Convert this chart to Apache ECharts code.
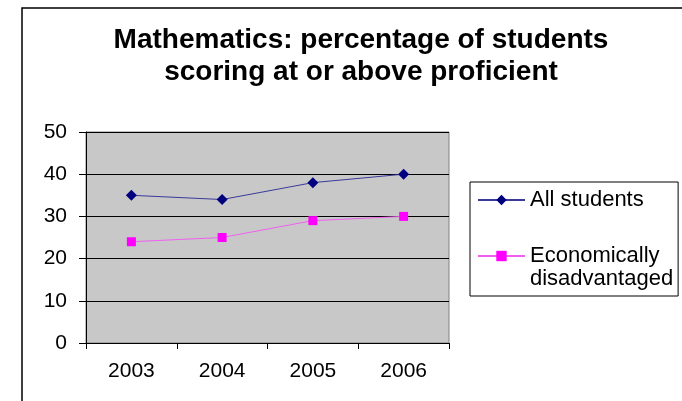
<!DOCTYPE html>
<html>
<head>
<meta charset="utf-8">
<script src="https://cdn.jsdelivr.net/npm/echarts@6/dist/echarts.min.js"></script>
<style>
  html, body { margin: 0; padding: 0; background: #fff; }
  #chart { width: 682px; height: 401px; }
</style>
</head>
<body>
<div id="chart"></div>
<script>
  const years = ['2003', '2004', '2005', '2006']
  const allStudents = [35, 34, 38, 40]
  const econDisadvantaged = [24, 25, 29, 30]
  const seriesNames = ['All students', 'Economically disadvantaged']

  const font = "'Liberation Sans', Arial, sans-serif"

  const chart = echarts.init(document.getElementById('chart'))
  chart.setOption({
    backgroundColor: '#fff',
    animation: false,
    title: {
      text: 'Mathematics: percentage of students\nscoring at or above proficient',
      left: 356,
      top: 19,
      textAlign: 'center',
      textStyle: {
        fontFamily: font,
        fontSize: 28,
        fontWeight: 'bold',
        color: '#000',
        lineHeight: 32
      }
    },
    // outer chart frame
    graphic: [{
      type: 'rect',
      shape: { x: 22, y: 8, width: 700, height: 450 },
      style: { fill: 'none', stroke: '#000', lineWidth: 1.5 },
      silent: true
    }],
    legend: {
      orient: 'vertical',
      left: 470,
      top: 182,
      padding: [6.5, 5, 5.5, 7],
      itemGap: 10,
      itemWidth: 47,
      itemHeight: 13,
      borderColor: '#000',
      borderWidth: 1,
      backgroundColor: '#fff',
      data: [
        { name: seriesNames[0] },
        { name: seriesNames[1] }
      ],
      formatter: name => name === seriesNames[1] ? '\nEconomically\ndisadvantaged' : name,
      textStyle: {
        fontFamily: font,
        fontSize: 22,
        lineHeight: 23,
        color: '#000'
      }
    },
    grid: {
      left: 86,
      right: 233,
      top: 132,
      bottom: 58,
      show: true,
      backgroundColor: '#c8c8c8',
      borderColor: '#808080',
      borderWidth: 1
    },
    xAxis: {
      type: 'category',
      data: years,
      boundaryGap: true,
      axisLine: { lineStyle: { color: '#000', width: 1 } },
      axisTick: { show: true, length: 6, alignWithLabel: false, lineStyle: { color: '#000' } },
      axisLabel: { fontFamily: font, fontSize: 21, color: '#000', margin: 18 }
    },
    yAxis: {
      type: 'value',
      min: 0,
      max: 50,
      interval: 10,
      axisLine: { show: true, lineStyle: { color: '#000', width: 1 } },
      axisTick: { show: true, length: 7, lineStyle: { color: '#000' } },
      axisLabel: { fontFamily: font, fontSize: 21, color: '#000', margin: 19 },
      splitLine: { show: true, lineStyle: { color: '#000', width: 1 } }
    },
    series: [
      {
        name: seriesNames[0],
        type: 'line',
        data: allStudents,
        symbol: 'diamond',
        symbolSize: 11,
        lineStyle: { color: '#3a3a9a', width: 1 },
        itemStyle: { color: '#000080' }
      },
      {
        name: seriesNames[1],
        type: 'line',
        data: econDisadvantaged,
        symbol: 'rect',
        symbolSize: 9,
        lineStyle: { color: '#f060f0', width: 1 },
        itemStyle: { color: '#ff00ff' }
      }
    ]
  })
</script>
</body>
</html>
